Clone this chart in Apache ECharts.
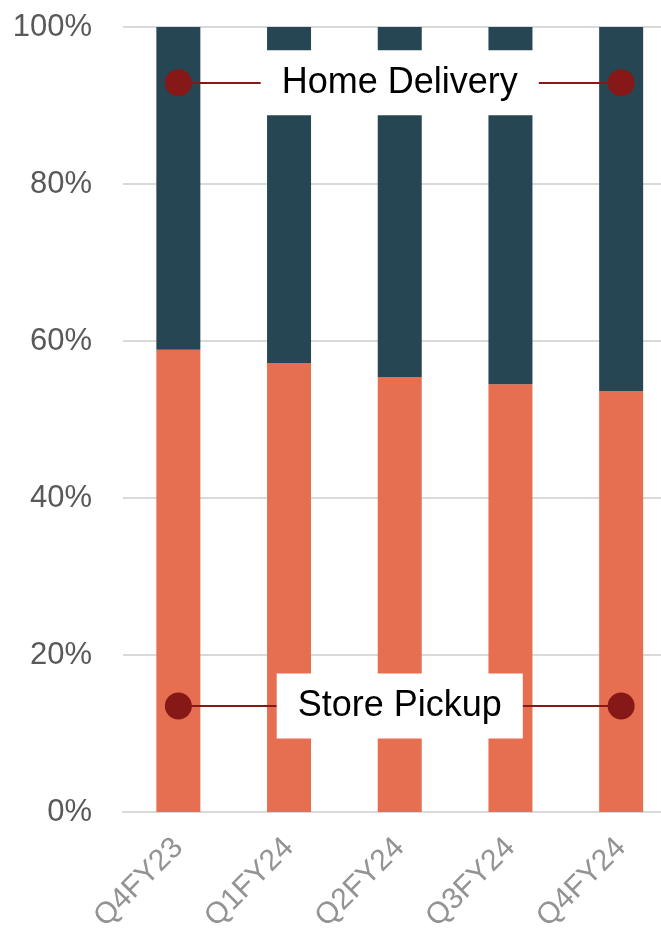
<!DOCTYPE html>
<html lang="en">

<head>
    <meta charset="UTF-8">
    <title>Store Pickup vs Home Delivery</title>
    <script src="https://cdn.jsdelivr.net/npm/echarts@6/dist/echarts.min.js"></script>
    <style>
        body { margin: 0; background: #fff; }
        #main { width: 661px; height: 933px; }
    </style>
</head>

<body>
    <div id="main"></div>

    <script>
        // data
        const categories = ['Q4FY23', 'Q1FY24', 'Q2FY24', 'Q3FY24', 'Q4FY24'];
        const storePickup = [58.9, 57.2, 55.4, 54.5, 53.6];
        const homeDelivery = [41.1, 42.8, 44.6, 45.5, 46.4];
        const yTicks = [0, 20, 40, 60, 80, 100];
        // where the two annotation lines sit (% on y axis)
        const labelLevels = { 'Home Delivery': 92.9, 'Store Pickup': 13.5 };

        const font = "'Liberation Sans', Arial, sans-serif";
        const myChart = echarts.init(document.getElementById('main'));

        const annotations = Object.keys(labelLevels).map(name => [
            { name: name, coord: [categories[0], labelLevels[name]] },
            { coord: [categories[categories.length - 1], labelLevels[name]] }
        ]);

        const option = {
            animation: false,
            textStyle: { fontFamily: font },
            // plot runs a bit past the right edge, like the original
            grid: { left: 123, top: 27, width: 553.5, height: 785, containLabel: false, outerBoundsMode: 'none' },
            xAxis: {
                type: 'category',
                data: categories,
                axisTick: { show: false },
                axisLine: { lineStyle: { color: '#d9d9d9', width: 2 } },
                axisLabel: {
                    rotate: 45,
                    fontSize: 30,
                    color: '#939393',
                    margin: 31,
                    fontFamily: font
                }
            },
            yAxis: {
                type: 'value',
                min: yTicks[0],
                max: yTicks[yTicks.length - 1],
                interval: 20,
                axisLine: { show: false },
                axisTick: { show: false },
                splitLine: { lineStyle: { color: '#d9d9d9', width: 2 } },
                axisLabel: {
                    formatter: '{value}%',
                    fontSize: 31,
                    color: '#595959',
                    margin: 31,
                    fontFamily: font
                }
            },
            series: [
                {
                    name: 'Store Pickup',
                    type: 'bar',
                    stack: 'total',
                    barWidth: 44,
                    itemStyle: { color: '#E76F51' },
                    data: storePickup
                },
                {
                    name: 'Home Delivery',
                    type: 'bar',
                    stack: 'total',
                    barWidth: 44,
                    itemStyle: { color: '#264653' },
                    data: homeDelivery
                },
                {
                    // carries the two labelled lines above the bars
                    name: 'annotations',
                    type: 'scatter',
                    data: [],
                    z: 10,
                    markLine: {
                        silent: true,
                        symbol: ['circle', 'circle'],
                        symbolSize: 27,
                        lineStyle: { color: '#861818', width: 2, type: 'solid' },
                        itemStyle: { color: '#861818' },
                        label: {
                            show: true,
                            position: 'middle',
                            distance: 0,
                            verticalAlign: 'middle',
                            formatter: '{b}',
                            color: '#000',
                            fontSize: 36,
                            fontFamily: font,
                            backgroundColor: '#fff',
                            padding: [16, 21, 13, 21]
                        },
                        emphasis: { disabled: true },
                        data: annotations
                    }
                }
            ]
        };

        myChart.setOption(option);
    </script>
</body>

</html>
